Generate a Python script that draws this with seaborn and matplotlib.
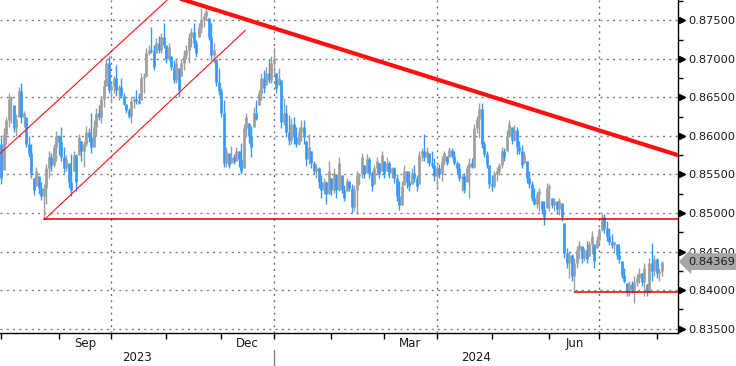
import numpy as np
import pandas as pd
import matplotlib
matplotlib.use("Agg")
import matplotlib.pyplot as plt
import matplotlib.ticker as mticker
import matplotlib.transforms as mtrans
import seaborn as sns

# ── Data: EUR/GBP daily bars, one per weekday from 1 Aug 2023 ─────────────
START = "2023-08-01"
OPEN0 = 0.8590

high = [
    # Aug 2023
    0.8598, 0.8610, 0.8625, 0.8655, 0.8652, 0.8640, 0.8628, 0.8663, 0.8668, 0.8632,
    0.8625, 0.8600, 0.8590, 0.8545, 0.8560, 0.8548, 0.8540, 0.8538, 0.8564, 0.8580,
    0.8578, 0.8590, 0.8606,
    # Sep
    0.8601, 0.8611, 0.8585, 0.8575, 0.8565, 0.8577, 0.8581, 0.8577, 0.8603, 0.8594,
    0.8594, 0.8613, 0.8610, 0.8630, 0.8620, 0.8636, 0.8640, 0.8652, 0.8672, 0.8700,
    0.8704,
    # Oct
    0.8668, 0.8678, 0.8692, 0.8666, 0.8675, 0.8655, 0.8642, 0.8636, 0.8650, 0.8652,
    0.8659, 0.8656, 0.8681, 0.8682, 0.8714, 0.8718, 0.8741, 0.8718, 0.8727, 0.8730,
    0.8733, 0.8747,
    # Nov
    0.8718, 0.8721, 0.8704, 0.8698, 0.8700, 0.8688, 0.8700, 0.8711, 0.8718, 0.8733,
    0.8740, 0.8747, 0.8724, 0.8746, 0.8766, 0.8759, 0.8770, 0.8753, 0.8747, 0.8721,
    0.8700, 0.8688,
    # Dec
    0.8662, 0.8646, 0.8585, 0.8578, 0.8587, 0.8577, 0.8585, 0.8581, 0.8591, 0.8616,
    0.8630, 0.8617, 0.8613, 0.8637, 0.8646, 0.8659, 0.8681, 0.8685, 0.8689, 0.8700,
    0.8704,
    # Jan 2024
    0.8715, 0.8682, 0.8688, 0.8672, 0.8649, 0.8640, 0.8627, 0.8623, 0.8624, 0.8611,
    0.8611, 0.8620, 0.8620, 0.8594, 0.8603, 0.8581, 0.8568, 0.8564, 0.8559, 0.8549,
    0.8546, 0.8542, 0.8568,
    # Feb
    0.8545, 0.8558, 0.8551, 0.8572, 0.8549, 0.8536, 0.8546, 0.8542, 0.8538, 0.8536,
    0.8555, 0.8552, 0.8578, 0.8562, 0.8577, 0.8572, 0.8555, 0.8562, 0.8572, 0.8565,
    0.8581,
    # Mar
    0.8568, 0.8572, 0.8568, 0.8560, 0.8559, 0.8551, 0.8542, 0.8542, 0.8562, 0.8555,
    0.8555, 0.8558, 0.8562, 0.8549, 0.8581, 0.8584, 0.8603, 0.8585, 0.8578, 0.8581,
    0.8571,
    # Apr
    0.8562, 0.8564, 0.8574, 0.8581, 0.8574, 0.8585, 0.8584, 0.8581, 0.8568, 0.8565,
    0.8551, 0.8552, 0.8562, 0.8571, 0.8571, 0.8616, 0.8626, 0.8643, 0.8643, 0.8594,
    0.8581, 0.8562,
    # May
    0.8549, 0.8555, 0.8559, 0.8565, 0.8585, 0.8584, 0.8607, 0.8620, 0.8611, 0.8614,
    0.8611, 0.8594, 0.8588, 0.8581, 0.8568, 0.8555, 0.8542, 0.8533, 0.8529, 0.8532,
    0.8516, 0.8516, 0.8539,
    # Jun
    0.8538, 0.8519, 0.8520, 0.8516, 0.8519, 0.8513, 0.8487, 0.8455, 0.8451, 0.8447,
    0.8442, 0.8457, 0.8464, 0.8457, 0.8455, 0.8464, 0.8464, 0.8477, 0.8460, 0.8470,
    # Jul
    0.8481, 0.8499, 0.8499, 0.8490, 0.8480, 0.8473, 0.8464, 0.8460, 0.8460, 0.8438,
    0.8429, 0.8409, 0.8412, 0.8412, 0.8418, 0.8421, 0.8428, 0.8422, 0.8435, 0.8408,
    0.8441, 0.8461, 0.8445,
    # Aug
    0.8441, 0.8429, 0.8438,
]

low = [
    0.8538, 0.8556, 0.8590, 0.8611, 0.8617, 0.8605, 0.8600, 0.8624, 0.8617, 0.8612,
    0.8585, 0.8572, 0.8545, 0.8523, 0.8535, 0.8525, 0.8517, 0.8492, 0.8512, 0.8545,
    0.8555, 0.8560, 0.8568,
    0.8575, 0.8568, 0.8552, 0.8555, 0.8533, 0.8522, 0.8555, 0.8529, 0.8575, 0.8568,
    0.8560, 0.8587, 0.8592, 0.8578, 0.8585, 0.8600, 0.8620, 0.8617, 0.8637, 0.8665,
    0.8655,
    0.8643, 0.8656, 0.8652, 0.8646, 0.8649, 0.8640, 0.8630, 0.8623, 0.8617, 0.8636,
    0.8642, 0.8641, 0.8646, 0.8655, 0.8676, 0.8705, 0.8707, 0.8685, 0.8707, 0.8707,
    0.8707, 0.8714,
    0.8695, 0.8698, 0.8685, 0.8669, 0.8668, 0.8650, 0.8678, 0.8685, 0.8700, 0.8694,
    0.8715, 0.8714, 0.8702, 0.8728, 0.8734, 0.8741, 0.8750, 0.8724, 0.8698, 0.8695,
    0.8665, 0.8653,
    0.8624, 0.8559, 0.8559, 0.8558, 0.8565, 0.8564, 0.8568, 0.8560, 0.8551, 0.8558,
    0.8598, 0.8591, 0.8572, 0.8611, 0.8620, 0.8640, 0.8646, 0.8656, 0.8666, 0.8668,
    0.8668,
    0.8678, 0.8656, 0.8666, 0.8610, 0.8614, 0.8598, 0.8588, 0.8590, 0.8590, 0.8585,
    0.8588, 0.8594, 0.8590, 0.8561, 0.8564, 0.8558, 0.8551, 0.8546, 0.8533, 0.8520,
    0.8525, 0.8512, 0.8525,
    0.8523, 0.8526, 0.8520, 0.8529, 0.8526, 0.8516, 0.8529, 0.8529, 0.8500, 0.8503,
    0.8499, 0.8536, 0.8545, 0.8546, 0.8552, 0.8546, 0.8529, 0.8538, 0.8549, 0.8545,
    0.8555,
    0.8545, 0.8555, 0.8545, 0.8545, 0.8539, 0.8516, 0.8504, 0.8510, 0.8536, 0.8533,
    0.8529, 0.8538, 0.8540, 0.8529, 0.8538, 0.8568, 0.8568, 0.8565, 0.8561, 0.8558,
    0.8542,
    0.8532, 0.8546, 0.8542, 0.8562, 0.8562, 0.8572, 0.8571, 0.8562, 0.8552, 0.8542,
    0.8529, 0.8526, 0.8540, 0.8520, 0.8558, 0.8558, 0.8604, 0.8597, 0.8584, 0.8572,
    0.8558, 0.8532,
    0.8529, 0.8533, 0.8542, 0.8549, 0.8558, 0.8568, 0.8581, 0.8598, 0.8590, 0.8594,
    0.8577, 0.8577, 0.8558, 0.8565, 0.8539, 0.8533, 0.8516, 0.8510, 0.8507, 0.8503,
    0.8499, 0.8484, 0.8506,
    0.8503, 0.8506, 0.8503, 0.8499, 0.8497, 0.8490, 0.8441, 0.8429, 0.8416, 0.8412,
    0.8396, 0.8429, 0.8440, 0.8435, 0.8438, 0.8435, 0.8444, 0.8447, 0.8429, 0.8454,
    0.8460, 0.8477, 0.8474, 0.8464, 0.8458, 0.8455, 0.8451, 0.8440, 0.8435, 0.8415,
    0.8409, 0.8392, 0.8392, 0.8396, 0.8383, 0.8405, 0.8409, 0.8405, 0.8392, 0.8392,
    0.8396, 0.8412, 0.8418,
    0.8416, 0.8412, 0.8418,
]

close = [
    0.8545, 0.8602, 0.8620, 0.8648, 0.8650, 0.8610, 0.8622, 0.8658, 0.8625, 0.8630,
    0.8590, 0.8578, 0.8550, 0.8530, 0.8555, 0.8532, 0.8522, 0.8532, 0.8558, 0.8572,
    0.8562, 0.8585, 0.8600,
    0.8592, 0.8572, 0.8558, 0.8570, 0.8540, 0.8530, 0.8575, 0.8540, 0.8598, 0.8580,
    0.8590, 0.8605, 0.8598, 0.8585, 0.8612, 0.8630, 0.8625, 0.8648, 0.8665, 0.8695,
    0.8660,
    0.8665, 0.8675, 0.8660, 0.8664, 0.8652, 0.8642, 0.8634, 0.8626, 0.8645, 0.8648,
    0.8645, 0.8643, 0.8675, 0.8678, 0.8708, 0.8712, 0.8710, 0.8690, 0.8720, 0.8712,
    0.8728, 0.8718,
    0.8700, 0.8715, 0.8690, 0.8672, 0.8694, 0.8660, 0.8695, 0.8705, 0.8712, 0.8728,
    0.8735, 0.8720, 0.8708, 0.8740, 0.8750, 0.8755, 0.8762, 0.8728, 0.8705, 0.8712,
    0.8670, 0.8658,
    0.8630, 0.8565, 0.8580, 0.8562, 0.8572, 0.8566, 0.8580, 0.8570, 0.8555, 0.8610,
    0.8625, 0.8600, 0.8585, 0.8630, 0.8622, 0.8655, 0.8675, 0.8662, 0.8682, 0.8672,
    0.8695,
    0.8700, 0.8662, 0.8675, 0.8618, 0.8630, 0.8605, 0.8595, 0.8615, 0.8598, 0.8590,
    0.8605, 0.8612, 0.8598, 0.8570, 0.8585, 0.8565, 0.8555, 0.8558, 0.8540, 0.8530,
    0.8540, 0.8525, 0.8555,
    0.8530, 0.8552, 0.8530, 0.8565, 0.8530, 0.8520, 0.8542, 0.8532, 0.8508, 0.8530,
    0.8548, 0.8550, 0.8572, 0.8550, 0.8570, 0.8552, 0.8535, 0.8558, 0.8568, 0.8550,
    0.8575,
    0.8550, 0.8565, 0.8552, 0.8558, 0.8545, 0.8522, 0.8510, 0.8535, 0.8555, 0.8540,
    0.8535, 0.8552, 0.8545, 0.8535, 0.8575, 0.8580, 0.8572, 0.8580, 0.8565, 0.8562,
    0.8548,
    0.8558, 0.8550, 0.8568, 0.8578, 0.8565, 0.8582, 0.8574, 0.8565, 0.8558, 0.8545,
    0.8548, 0.8530, 0.8558, 0.8565, 0.8560, 0.8610, 0.8622, 0.8635, 0.8590, 0.8576,
    0.8562, 0.8538,
    0.8535, 0.8550, 0.8555, 0.8562, 0.8580, 0.8572, 0.8600, 0.8615, 0.8595, 0.8608,
    0.8585, 0.8580, 0.8562, 0.8575, 0.8545, 0.8538, 0.8520, 0.8512, 0.8525, 0.8528,
    0.8505, 0.8495, 0.8532,
    0.8535, 0.8510, 0.8515, 0.8505, 0.8515, 0.8495, 0.8448, 0.8435, 0.8445, 0.8418,
    0.8435, 0.8452, 0.8458, 0.8442, 0.8452, 0.8440, 0.8460, 0.8470, 0.8438, 0.8465,
    0.8478, 0.8495, 0.8480, 0.8470, 0.8462, 0.8458, 0.8462, 0.8445, 0.8440, 0.8420,
    0.8412, 0.8398, 0.8408, 0.8400, 0.8410, 0.8415, 0.8422, 0.8410, 0.8428, 0.8398,
    0.8435, 0.8425, 0.8440,
    0.8422, 0.8425, 0.84369,
]

# hand-drawn studies: (bar index, price) end points
CHANNEL_UPPER = ([-0.4, 70.0], [0.8577, 0.8787])
CHANNEL_LOWER = ([17.2, 97.6], [0.8491, 0.8737])
DOWNTREND = ([67.6, 270.4], [0.8782, 0.8575])
RES_LINE = ([17.2, 270.4], [0.8492, 0.8492])
SUP_LINE = ([229.3, 270.4], [0.8397, 0.8397])

MONTH_LABELS = {9: "Sep", 12: "Dec", 3: "Mar", 6: "Jun"}
YEARS = ["2023", "2024"]

UP = "#9e9e9e"
DOWN = "#3399ff"
RED = "#ff1010"
GRID = "#808080"
DOTS = (0, (1.5, 3.0))

# ── Frame ──────────────────────────────────────────────────────────────────
df = pd.DataFrame({"date": pd.bdate_range(START, periods=len(close)),
                   "high": high, "low": low, "close": close})
df["x"] = np.arange(len(df))
prev = df["close"].shift(1).fillna(OPEN0)
df["open"] = np.clip(prev, df["low"], df["high"])
df["color"] = np.where(df["close"] >= df["open"], UP, DOWN)

sns.set_theme(style="white")
plt.rcParams["font.family"] = ["DejaVu Sans"]

fig = plt.figure(figsize=(7.36, 3.66), dpi=100)
ax = fig.add_axes([0.0, 0.0902, 0.9212, 0.9098])
XMIN, XMAX = -0.4, 270.4
ax.set_xlim(XMIN, XMAX)
ax.set_ylim(0.83443, 0.87763)

# grid
for y in np.arange(0.835, 0.8751, 0.005):
    ax.axhline(y, color=GRID, lw=1.0, ls=DOTS, zorder=1)
period = df["date"].dt.to_period("M")
month_start = df.index[period != period.shift()].to_numpy()
quarter_start = [i for i in month_start if df["date"][i].month in (1, 4, 7, 10)]
for i in quarter_start:
    ax.axvline(i, color="#737373", lw=1.0, ls=DOTS, zorder=1)

# bars
ax.vlines(df["x"], df["low"], df["high"], colors=df["color"], lw=1.0, zorder=3)
ax.vlines(df["x"], np.minimum(df["open"], df["close"]), np.maximum(df["open"], df["close"]),
          colors=df["color"], lw=1.9, zorder=3)

# studies
for (xs, ys), lw, col in [(CHANNEL_UPPER, 0.8, RED), (CHANNEL_LOWER, 0.8, RED),
                          (DOWNTREND, 3.0, RED), (RES_LINE, 1.1, "#e00000"),
                          (SUP_LINE, 1.1, "#e00000")]:
    sns.lineplot(x=xs, y=ys, ax=ax, color=col, lw=lw, zorder=4, legend=False)

# spines
for s in ("left", "top"):
    ax.spines[s].set_visible(False)
for s in ("right", "bottom"):
    ax.spines[s].set_color("black")
    ax.spines[s].set_linewidth(1)

# y axis on right
ax.yaxis.tick_right()
yt = np.arange(0.835, 0.8751, 0.005)
ax.set_yticks(yt)
ax.yaxis.set_major_formatter(mticker.StrMethodFormatter("{x:.5f}"))
ax.yaxis.set_minor_locator(mticker.MultipleLocator(0.0025))
ax.tick_params(axis="y", which="major", length=4, width=1, color="black",
               pad=3.2, labelsize=8.2, labelcolor="#1a1a1a", right=True, left=False)
ax.tick_params(axis="y", which="minor", length=3.5, width=1, color="black",
               right=True, left=False)
ax.set_ylabel("")
blend = mtrans.blended_transform_factory(ax.transAxes, ax.transData)
tri_tf = blend + mtrans.ScaledTranslation(4 / 100, 0, fig.dpi_scale_trans)
ax.plot(np.ones(len(yt)), yt, transform=tri_tf, ls="none", marker=">", ms=5,
        color="black", clip_on=False, zorder=6)

# x axis: month ticks, quarter labels
ax.set_xticks(month_start)
ax.tick_params(axis="x", which="major", length=4, width=1, color="black",
               direction="out", labelbottom=False, bottom=True)
lab_pos, lab_txt = [], []
for k in range(len(month_start) - 1):
    m = df["date"][month_start[k]].month
    if m in MONTH_LABELS:
        lab_pos.append((month_start[k] + month_start[k + 1]) / 2)
        lab_txt.append(MONTH_LABELS[m])
ax.set_xticks(lab_pos, minor=True)
ax.set_xticklabels(lab_txt, minor=True)
ax.tick_params(axis="x", which="minor", length=0, pad=3, labelsize=8.5,
               labelcolor="#1a1a1a")
ax.set_xlabel("")

# year labels and separator
jan = [i for i in month_start if df["date"][i].month == 1][0]
xblend = mtrans.blended_transform_factory(ax.transData, ax.transAxes)
ax.text((XMIN + jan) / 2, -0.075, YEARS[0], transform=xblend, ha="center",
        va="center", fontsize=8.5, color="#1a1a1a")
ax.text((jan + XMAX) / 2, -0.075, YEARS[1], transform=xblend, ha="center",
        va="center", fontsize=8.5, color="#1a1a1a")
ax.plot([jan, jan], [-0.051, -0.1], transform=xblend, color="#808080", lw=1,
        clip_on=False)

# last price tag
last = close[-1]
ax.text(1.0148, last, f"{last:.5f}", transform=blend, ha="left", va="center",
        fontsize=8.2, color="#1a1a1a", zorder=10, clip_on=False,
        bbox=dict(boxstyle="larrow,pad=0.3", fc="#a6a6a6", ec="none"))

fig.savefig("out.png", dpi=100, facecolor="white")
